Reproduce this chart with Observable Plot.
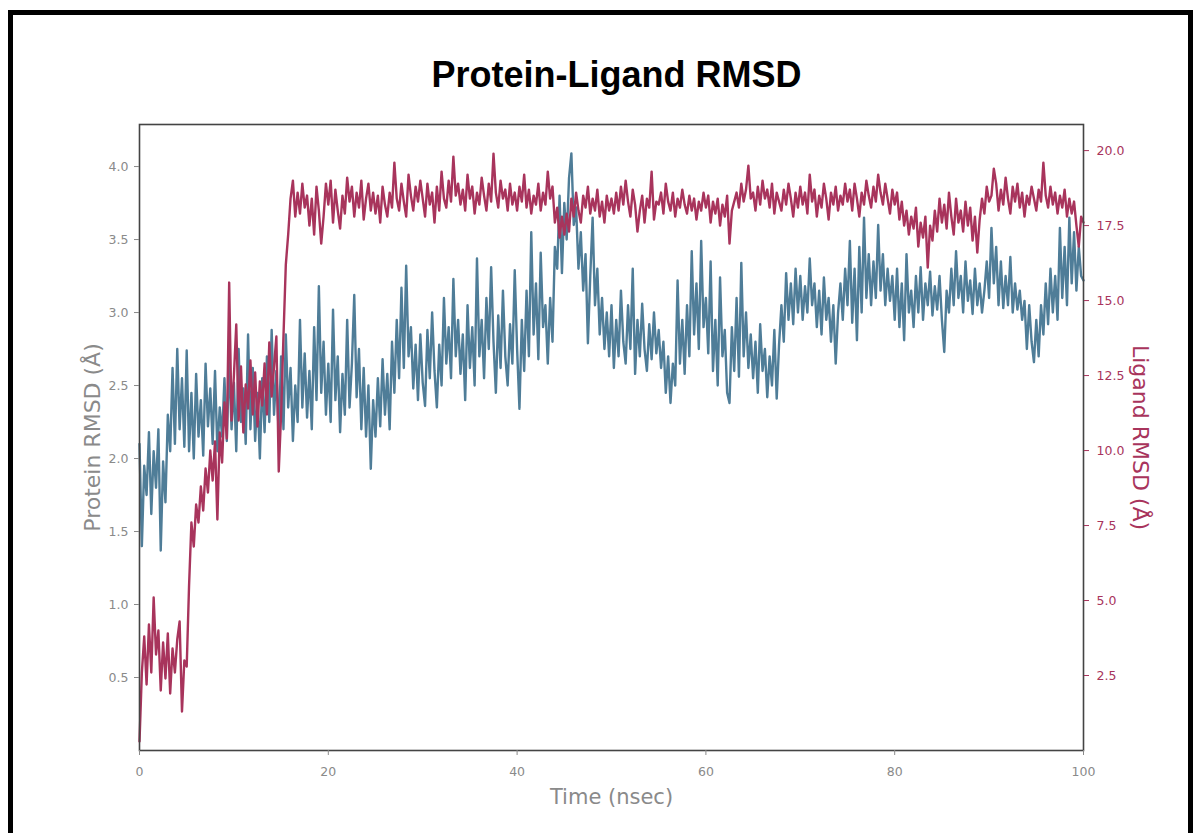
<!DOCTYPE html>
<html>
<head>
<meta charset="utf-8">
<script src="https://cdn.jsdelivr.net/npm/d3@7"></script>
<script src="https://cdn.jsdelivr.net/npm/@observablehq/plot@0.6"></script>
<style>
  html, body { margin: 0; padding: 0; background: #fff; }
  #page { position: relative; width: 1195px; height: 833px; overflow: hidden; background: #fff; }
  #border { position: absolute; left: 8px; top: 10px; width: 1185px; height: 900px; box-sizing: border-box; border: 5px solid #000; pointer-events: none; }
  #title { position: absolute; left: 0; top: 57px; width: 1233px; text-align: center; font: 700 36px/36px "Liberation Sans", Arial, sans-serif; color: #000; }
  #chart { position: absolute; left: 0; top: 110px; }
</style>
</head>
<body>
<div id="page">
  <div id="title">Protein-Ligand RMSD</div>
  <div id="chart"></div>
  <div id="border"></div>
</div>
<script>
// ---- data (sampled every 0.25 ns, 0 .. 100 ns) ----
const timeStep = 0.25;

const proteinRMSD = [
  2.10,1.40,1.95,1.75,2.18,1.62,2.05,1.80,2.20,1.37,1.98,1.70,2.30,2.05,2.62,2.10,2.75,2.20,2.55,2.08,
  2.74,2.05,2.45,2.00,2.58,2.15,2.40,2.02,2.65,2.22,2.48,2.10,2.60,2.05,2.35,2.15,2.55,2.12,2.68,2.20,
  2.52,2.05,2.75,2.25,2.48,2.10,2.85,2.20,2.62,2.12,2.45,2.00,2.55,2.18,2.70,2.25,2.88,2.30,2.60,2.15,
  2.70,2.20,2.85,2.35,2.62,2.12,2.50,2.25,2.95,2.35,2.72,2.28,2.60,2.20,2.90,2.40,3.18,2.45,2.80,2.30,
  2.65,2.25,3.02,2.40,2.70,2.18,2.58,2.30,2.95,2.35,2.65,3.12,2.42,2.75,2.20,2.62,2.15,2.50,1.93,2.40,
  2.15,2.55,2.22,2.68,2.30,2.58,2.20,2.80,2.45,2.95,2.55,3.17,2.62,3.32,2.70,2.90,2.48,2.78,2.40,2.85,
  2.52,2.36,2.88,2.55,3.00,2.60,2.35,2.78,2.50,3.10,2.65,2.90,2.55,3.23,2.70,2.95,2.58,2.85,2.40,3.05,
  2.62,2.90,2.50,3.37,2.70,2.95,2.55,3.10,2.75,3.31,2.80,2.45,2.98,2.62,3.15,2.70,2.50,2.92,2.65,3.29,
  2.75,2.34,2.95,2.60,3.15,2.70,3.55,2.85,3.20,2.68,3.41,2.90,3.05,2.65,3.10,2.80,3.45,3.30,3.80,3.27,
  3.75,3.50,3.92,4.09,3.60,3.72,3.30,3.55,3.15,3.40,2.79,3.25,3.65,3.05,3.30,2.85,3.10,2.75,3.00,2.70,
  3.05,2.62,2.95,2.70,3.15,2.80,2.65,3.05,2.75,3.30,2.58,2.95,2.70,3.06,2.75,2.60,2.92,2.68,3.00,2.72,
  2.88,2.62,2.80,2.45,2.70,2.38,2.65,2.50,3.22,2.65,2.95,2.58,3.05,2.70,3.42,2.85,3.20,2.75,3.49,2.90,
  3.10,2.72,3.35,2.60,2.95,2.50,3.24,2.70,2.88,2.45,2.38,2.90,2.60,3.10,2.56,3.34,2.70,3.00,2.62,2.85,
  2.55,2.80,2.45,2.92,2.60,2.75,2.42,2.70,2.50,2.88,2.41,2.78,3.05,2.80,3.27,2.95,3.20,2.92,3.30,3.00,
  3.25,2.95,3.18,3.00,3.37,3.05,3.20,2.90,3.15,2.85,3.24,2.95,3.10,2.80,3.05,2.65,3.00,3.20,2.95,3.30,
  3.05,3.49,2.93,3.30,2.81,3.45,3.00,3.65,3.10,3.40,3.05,3.35,3.10,3.60,3.15,3.40,3.05,3.30,3.08,3.25,
  2.95,3.30,2.90,3.20,2.81,3.40,3.00,3.15,2.90,3.25,3.00,3.31,2.95,3.20,3.05,3.28,2.98,3.18,3.02,3.25,
  2.95,2.73,3.15,3.00,3.30,3.05,3.42,3.10,3.25,3.00,3.35,3.08,3.22,2.99,3.30,3.05,3.20,3.00,3.15,3.35,
  3.10,3.58,3.20,3.45,3.05,3.35,3.03,3.25,3.05,3.38,3.00,3.20,3.02,3.15,2.95,3.08,2.75,3.05,2.80,2.66,
  2.95,2.70,3.05,2.85,3.20,2.92,3.30,3.00,3.25,2.95,3.58,3.10,3.45,3.05,3.65,3.20,3.55,3.15,3.45,3.25,3.22
];

const ligandRMSD = [
  0.3,2.6,3.8,2.2,4.2,2.6,5.1,3.2,4.0,2.0,3.6,2.4,3.9,1.9,3.4,2.6,3.7,4.3,1.3,3.0,
  2.8,5.5,7.6,6.8,8.2,7.6,8.8,8.0,9.4,8.6,10.0,9.0,10.3,7.7,10.6,9.6,11.6,10.4,15.6,11.0,
  12.5,14.2,11.0,12.8,10.6,12.2,11.4,13.0,11.2,12.6,10.8,12.3,11.5,12.9,11.2,13.6,11.8,12.8,13.8,9.3,
  11.2,13.8,16.2,17.2,18.4,19.0,17.8,18.6,17.9,18.9,18.1,18.5,17.5,18.4,17.2,18.8,18.0,16.9,17.8,18.9,
  18.2,19.0,17.6,18.7,18.0,17.4,18.5,17.9,19.1,18.3,18.8,17.8,18.6,18.1,19.0,17.7,18.4,18.9,18.0,18.6,
  17.9,18.5,17.6,18.8,18.2,17.8,18.6,18.1,19.6,18.4,18.0,18.9,18.3,17.8,19.2,18.5,18.0,18.8,18.3,19.0,
  18.4,17.8,18.9,18.2,18.6,17.6,18.8,18.0,19.3,18.4,18.1,19.0,18.3,19.8,18.5,18.9,18.2,18.7,18.0,19.2,
  18.4,18.8,17.9,18.6,18.2,19.1,18.5,18.0,18.9,18.3,19.9,18.6,18.1,19.0,18.4,18.7,18.0,18.9,18.2,18.6,
  18.0,18.8,18.3,19.2,18.1,18.7,17.9,18.5,18.2,18.9,18.0,18.6,18.2,19.3,18.4,18.8,17.6,18.1,17.1,17.8,
  17.2,17.9,17.3,18.4,17.8,18.6,18.0,17.6,18.5,18.1,18.8,17.9,18.4,18.0,18.7,17.8,18.3,17.6,18.5,18.0,
  18.4,17.9,18.6,18.0,18.8,18.2,19.0,18.3,17.8,18.7,18.2,17.3,18.0,18.5,17.6,18.4,18.1,19.3,17.7,18.3,
  18.2,18.6,17.9,18.9,18.3,18.0,18.6,17.8,18.4,18.1,18.7,18.2,17.9,18.5,18.0,18.4,17.7,18.3,18.0,18.6,
  18.1,18.5,17.6,18.3,17.9,18.4,17.5,18.2,17.8,18.5,16.9,18.0,18.3,18.6,18.1,18.9,18.3,18.7,19.5,18.4,
  18.6,18.0,18.8,18.2,19.0,18.4,18.7,18.1,18.9,17.9,18.6,18.3,18.0,18.7,18.2,18.9,18.4,17.8,18.6,18.1,
  18.8,18.2,18.6,17.9,19.2,18.3,18.7,17.8,18.5,18.1,18.9,18.4,17.7,18.6,18.2,18.8,18.0,18.5,18.2,18.9,
  18.3,18.7,18.0,18.9,18.4,17.8,18.6,18.2,19.0,18.5,18.1,18.8,18.3,19.2,18.6,18.2,18.9,18.4,17.9,18.7,
  18.2,18.6,17.7,18.3,17.5,18.0,17.2,17.8,17.4,18.1,16.8,17.6,17.1,17.8,16.1,17.5,17.0,18.0,17.3,18.4,
  17.6,18.2,17.4,18.6,17.8,17.2,18.4,17.6,18.0,17.3,18.3,17.5,18.1,17.0,17.8,16.6,17.7,18.4,17.9,18.8,
  18.3,18.5,19.4,18.9,18.0,18.7,18.2,19.1,18.4,17.9,18.8,18.3,18.9,18.1,18.6,17.8,18.5,18.2,18.8,18.4,
  18.0,18.7,18.3,19.6,18.5,18.1,18.8,18.2,18.6,17.9,18.5,18.1,18.7,17.8,18.4,17.9,18.3,17.5,16.8,17.8,17.6
];

const xTicks = [0, 20, 40, 60, 80, 100];
const proteinTicks = [0.5, 1.0, 1.5, 2.0, 2.5, 3.0, 3.5, 4.0];
const ligandTicks = [2.5, 5.0, 7.5, 10.0, 12.5, 15.0, 17.5, 20.0];

const title = "Protein-Ligand RMSD";
const xLabel = "Time (nsec)";
const proteinLabel = "Protein RMSD (Å)";
const ligandLabel = "Ligand RMSD (Å)";

// ---- styles ----
const blue = "#4f7d98";
const red = "#a8345c";
const gray = "#8a8a8a";

// ligand axis (right) is a linear rescale of the protein axis (left)
const proteinMax = 4.288;
const ligandMax = 20.87;
const ratio = ligandMax / proteinMax;

const proteinData = proteinRMSD.map((v, i) => ({t: i * timeStep, v}));
const ligandData = ligandRMSD.map((v, i) => ({t: i * timeStep, v: v / ratio}));

const chart = Plot.plot({
  width: 1195,
  height: 723,
  marginLeft: 139,
  marginRight: 112,
  marginTop: 14,
  marginBottom: 83,
  style: {fontFamily: "'DejaVu Sans', sans-serif", fontSize: "12px", background: "transparent", overflow: "visible"},
  x: {domain: [0, 100]},
  y: {domain: [0, proteinMax]},
  marks: [
    Plot.lineY(proteinData, {x: "t", y: "v", stroke: blue, strokeWidth: 2.4, curve: "linear"}),
    Plot.lineY(ligandData, {x: "t", y: "v", stroke: red, strokeWidth: 2.4, curve: "linear"}),
    Plot.frame({stroke: "#444", strokeWidth: 1.6}),
    Plot.axisX(xTicks, {anchor: "bottom", tickSize: 5, tickPadding: 12, stroke: gray, fill: gray, label: null, fontSize: 12.5, tickFormat: d => String(d)}),
    Plot.axisY(proteinTicks, {anchor: "left", tickSize: 5, tickPadding: 6, stroke: gray, fill: gray, label: null, fontSize: 12.5, tickFormat: d => d.toFixed(1)}),
    Plot.axisY(ligandTicks.map(v => v / ratio), {anchor: "right", tickSize: 5, tickPadding: 8, stroke: red, fill: red, label: null, fontSize: 12.5, tickFormat: d => (d * ratio).toFixed(1)}),
    Plot.text([proteinLabel], {text: d => d, frameAnchor: "left", rotate: -90, dx: -47, fill: gray, fontSize: 22, textAnchor: "middle"}),
    Plot.text([ligandLabel], {text: d => d, frameAnchor: "right", rotate: 90, dx: 57, fill: red, fontSize: 22, textAnchor: "middle"}),
    Plot.text([xLabel], {text: d => d, frameAnchor: "bottom", dy: 53, fill: gray, fontSize: 21, textAnchor: "middle"})
  ]
});
document.getElementById("chart").appendChild(chart);
document.getElementById("title").textContent = title;
</script>
</body>
</html>
